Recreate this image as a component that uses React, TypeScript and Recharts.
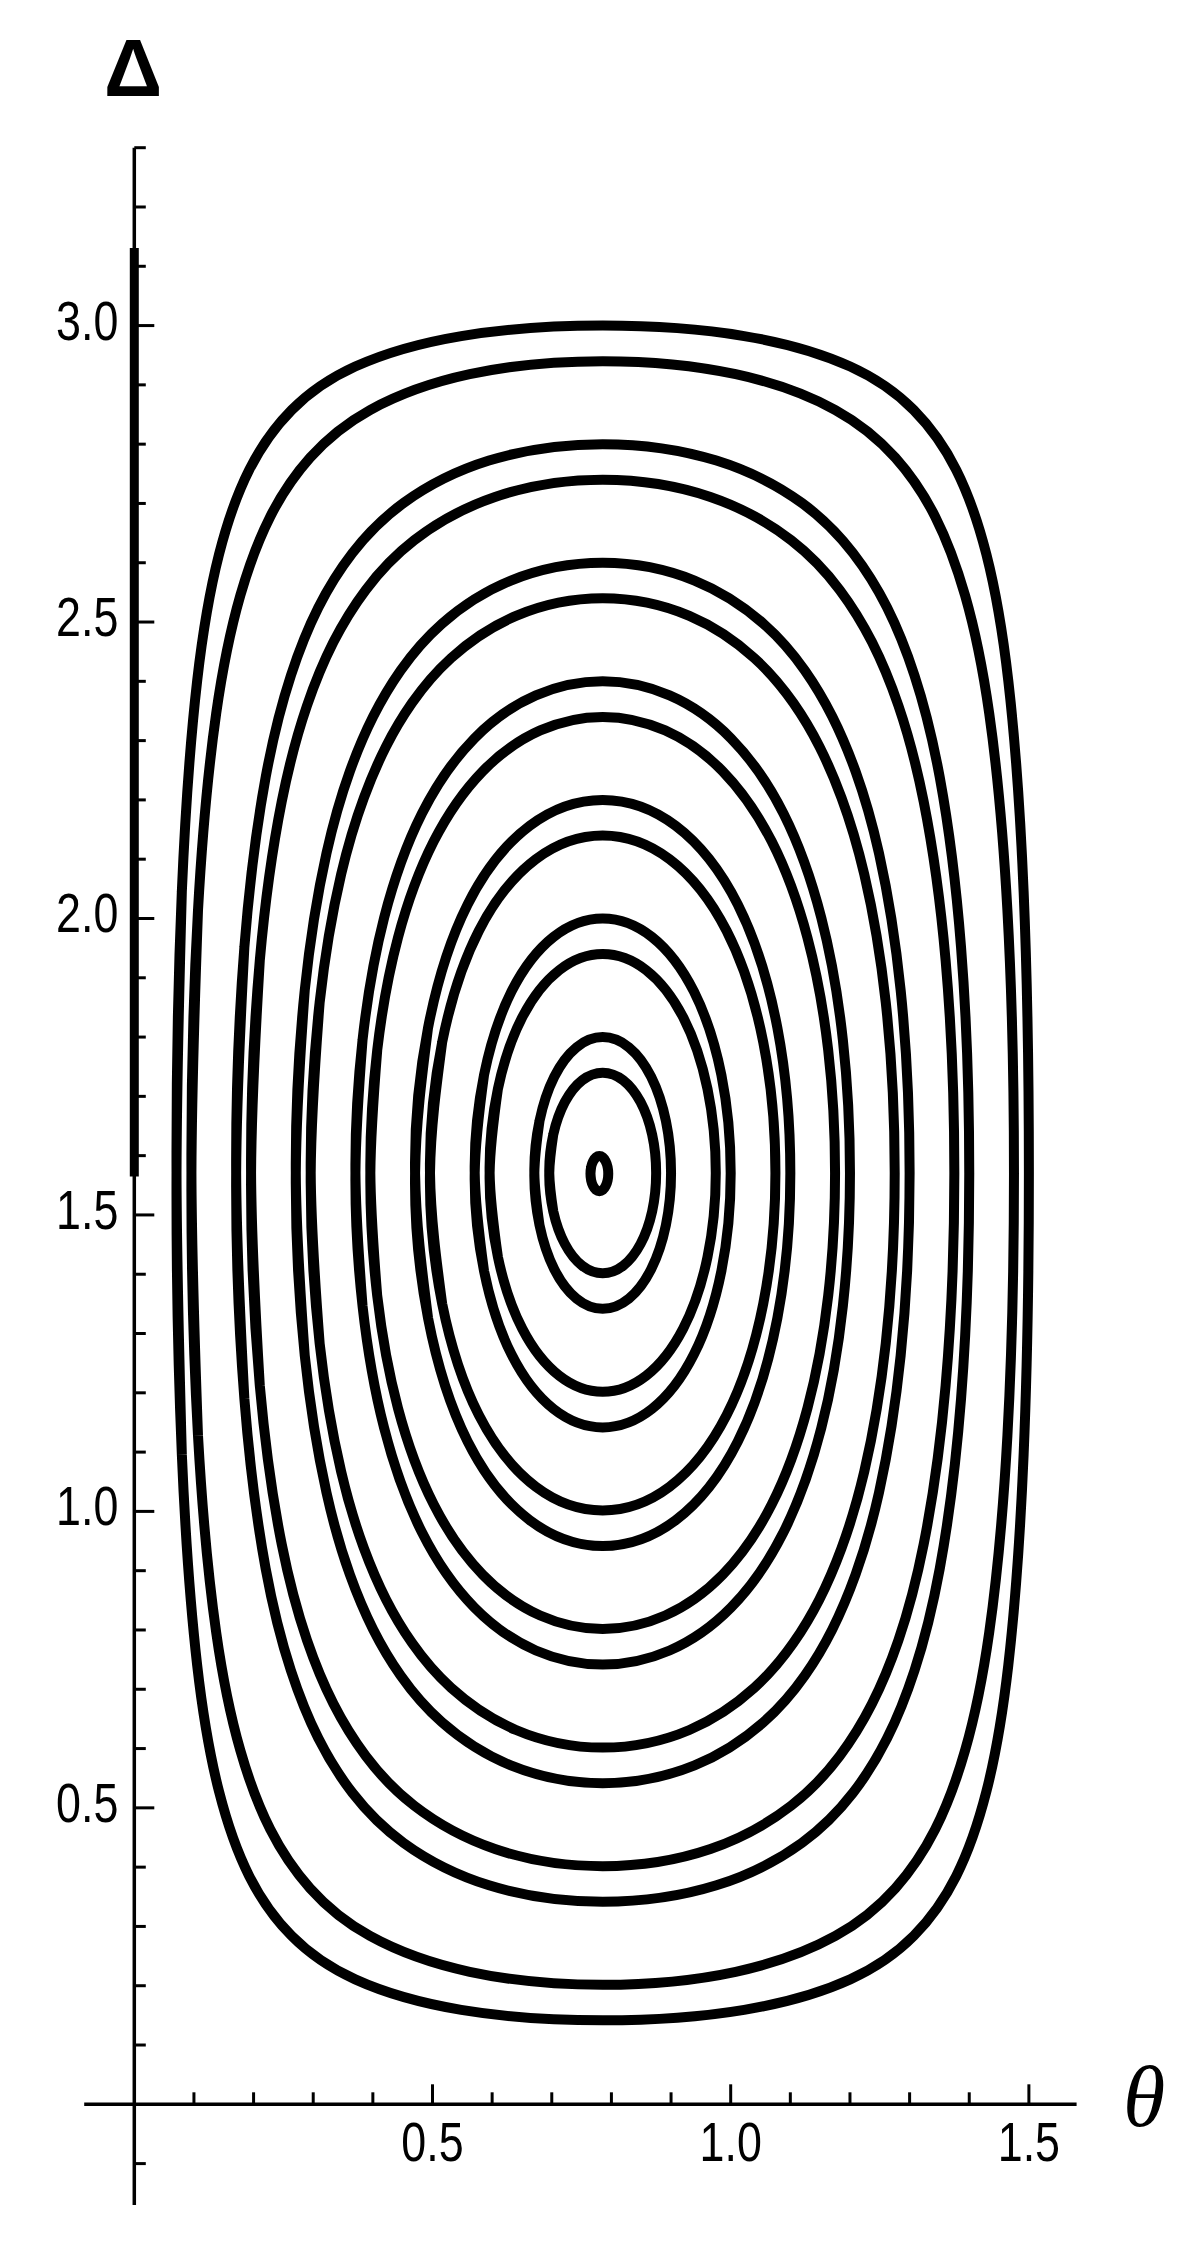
import { LineChart, Line, XAxis, YAxis, ReferenceLine } from "recharts";

const W = 1183;
const H = 2243;
const X_AXIS_H = 30;
const Y_AXIS_W = 40;
const MARGIN = { top: 147.7, right: 106.4, bottom: 37.9 - X_AXIS_H, left: 84.2 - Y_AXIS_W };
const X_DOMAIN: [number, number] = [-0.084, 1.58];
const Y_DOMAIN: [number, number] = [-0.17, 3.3];
const PLOT_W = W - 84.2 - MARGIN.right;
const PLOT_H = H - MARGIN.top - 37.9;
// where θ = 0 and Δ = 0 sit inside the plot box
const X0_OFF = ((0 - X_DOMAIN[0]) / (X_DOMAIN[1] - X_DOMAIN[0])) * PLOT_W;
const Y0_OFF = ((0 - Y_DOMAIN[0]) / (Y_DOMAIN[1] - Y_DOMAIN[0])) * PLOT_H;

const X_TICKS = [0.1, 0.2, 0.3, 0.4, 0.5, 0.6, 0.7, 0.8, 0.9, 1.0, 1.1, 1.2, 1.3, 1.4, 1.5];
const Y_TICKS = [
  -0.1, 0.1, 0.2, 0.3, 0.4, 0.5, 0.6, 0.7, 0.8, 0.9, 1.0, 1.1, 1.2, 1.3, 1.4, 1.5, 1.6,
  1.7, 1.8, 1.9, 2.0, 2.1, 2.2, 2.3, 2.4, 2.5, 2.6, 2.7, 2.8, 2.9, 3.0, 3.1, 3.2, 3.3,
];

// thick segment on the θ = 0 axis
const AXIS_SEGMENT = [[0, 1.565], [0, 3.131]];

// closed orbits, [θ, Δ] (outermost first)
const ORBIT_300 = [
  [0.0708, 1.5708], [0.0797, 2.0451], [0.1054, 2.4008], [0.1421, 2.6142], [0.1926, 2.7565],
  [0.2637, 2.8574], [0.3704, 2.9309], [0.5482, 2.9823], [0.7854, 3.0], [1.0226, 2.9823],
  [1.2004, 2.9309], [1.3071, 2.8574], [1.3782, 2.7565], [1.4287, 2.6142], [1.4655, 2.4008],
  [1.4912, 2.0451], [1.5, 1.5708], [1.4912, 1.0965], [1.4655, 0.7408], [1.4287, 0.5274],
  [1.3782, 0.3851], [1.3071, 0.2842], [1.2004, 0.2107], [1.0226, 0.1593], [0.7854, 0.1416],
  [0.5482, 0.1593], [0.3704, 0.2107], [0.2637, 0.2842], [0.1926, 0.3851], [0.1421, 0.5274],
  [0.1054, 0.7408], [0.0797, 1.0965],
];
const ORBIT_294 = [
  [0.0958, 1.5708], [0.1068, 2.0135], [0.1373, 2.3456], [0.1778, 2.5448], [0.2279, 2.6777],
  [0.2948, 2.7773], [0.3952, 2.8576], [0.5624, 2.9181], [0.7854, 2.94], [1.0084, 2.9181],
  [1.1756, 2.8576], [1.276, 2.7773], [1.3429, 2.6777], [1.393, 2.5448], [1.4335, 2.3456],
  [1.464, 2.0135], [1.475, 1.5708], [1.464, 1.1281], [1.4335, 0.796], [1.393, 0.5968],
  [1.3429, 0.4639], [1.276, 0.3643], [1.1756, 0.284], [1.0084, 0.2235], [0.7854, 0.2016],
  [0.5624, 0.2235], [0.3952, 0.284], [0.2948, 0.3643], [0.2279, 0.4639], [0.1778, 0.5968],
  [0.1373, 0.796], [0.1068, 1.1281],
];
const ORBIT_280 = [
  [0.1708, 1.5708], [0.1846, 1.9522], [0.2203, 2.2383], [0.2626, 2.4099], [0.3086, 2.5244],
  [0.3658, 2.6164], [0.4517, 2.7009], [0.5947, 2.7723], [0.7854, 2.8], [0.9761, 2.7723],
  [1.1192, 2.7009], [1.205, 2.6164], [1.2622, 2.5244], [1.3082, 2.4099], [1.3505, 2.2383],
  [1.3862, 1.9522], [1.4, 1.5708], [1.3862, 1.1894], [1.3505, 0.9033], [1.3082, 0.7317],
  [1.2622, 0.6172], [1.205, 0.5252], [1.1192, 0.4407], [0.9761, 0.3693], [0.7854, 0.3416],
  [0.5947, 0.3693], [0.4517, 0.4407], [0.3658, 0.5252], [0.3086, 0.6172], [0.2626, 0.7317],
  [0.2203, 0.9033], [0.1846, 1.1894],
];
const ORBIT_274 = [
  [0.1958, 1.5708], [0.2104, 1.929], [0.2473, 2.1976], [0.2895, 2.3588], [0.3339, 2.4662],
  [0.3881, 2.5542], [0.4693, 2.6379], [0.6048, 2.711], [0.7854, 2.74], [0.966, 2.711],
  [1.1015, 2.6379], [1.1828, 2.5542], [1.2369, 2.4662], [1.2813, 2.3588], [1.3235, 2.1976],
  [1.3604, 1.929], [1.375, 1.5708], [1.3604, 1.2126], [1.3235, 0.944], [1.2813, 0.7828],
  [1.2369, 0.6754], [1.1828, 0.5874], [1.1015, 0.5037], [0.966, 0.4306], [0.7854, 0.4016],
  [0.6048, 0.4306], [0.4693, 0.5037], [0.3881, 0.5874], [0.3339, 0.6754], [0.2895, 0.7828],
  [0.2473, 0.944], [0.2104, 1.2126],
];
const ORBIT_260 = [
  [0.2708, 1.5708], [0.2858, 1.8788], [0.3222, 2.1097], [0.3615, 2.2483], [0.4005, 2.3407],
  [0.4467, 2.4186], [0.5159, 2.4973], [0.6314, 2.57], [0.7854, 2.6], [0.9394, 2.57],
  [1.0549, 2.4973], [1.1242, 2.4186], [1.1703, 2.3407], [1.2093, 2.2483], [1.2487, 2.1097],
  [1.285, 1.8788], [1.3, 1.5708], [1.285, 1.2628], [1.2487, 1.0319], [1.2093, 0.8933],
  [1.1703, 0.8009], [1.1242, 0.723], [1.0549, 0.6443], [0.9394, 0.5716], [0.7854, 0.5416],
  [0.6314, 0.5716], [0.5159, 0.6443], [0.4467, 0.723], [0.4005, 0.8009], [0.3615, 0.8933],
  [0.3222, 1.0319], [0.2858, 1.2628],
];
const ORBIT_254 = [
  [0.2958, 1.5708], [0.3108, 1.8585], [0.3468, 2.0743], [0.385, 2.2037], [0.4221, 2.2901],
  [0.4657, 2.3635], [0.5311, 2.4391], [0.6401, 2.5103], [0.7854, 2.54], [0.9307, 2.5103],
  [1.0397, 2.4391], [1.1051, 2.3635], [1.1487, 2.2901], [1.1858, 2.2037], [1.224, 2.0743],
  [1.26, 1.8585], [1.275, 1.5708], [1.26, 1.2831], [1.224, 1.0673], [1.1858, 0.9379],
  [1.1487, 0.8515], [1.1051, 0.7781], [1.0397, 0.7025], [0.9307, 0.6313], [0.7854, 0.6016],
  [0.6401, 0.6313], [0.5311, 0.7025], [0.4657, 0.7781], [0.4221, 0.8515], [0.385, 0.9379],
  [0.3468, 1.0673], [0.3108, 1.2831],
];
const ORBIT_240 = [
  [0.3708, 1.5708], [0.3827, 1.7951], [0.4189, 2.0011], [0.4823, 2.1769], [0.5702, 2.3037],
  [0.6733, 2.3762], [0.7854, 2.4], [0.8975, 2.3762], [1.0006, 2.3037], [1.0885, 2.1769],
  [1.1519, 2.0011], [1.1881, 1.7951], [1.2, 1.5708], [1.1881, 1.3465], [1.1519, 1.1405],
  [1.0885, 0.9647], [1.0006, 0.8379], [0.8975, 0.7654], [0.7854, 0.7416], [0.6733, 0.7654],
  [0.5702, 0.8379], [0.4823, 0.9647], [0.4189, 1.1405], [0.3827, 1.3465],
];
const ORBIT_234 = [
  [0.3958, 1.5708], [0.4073, 1.7777], [0.4422, 1.9679], [0.5021, 2.1301], [0.5843, 2.2484],
  [0.6806, 2.3172], [0.7854, 2.34], [0.8902, 2.3172], [0.9865, 2.2484], [1.0687, 2.1301],
  [1.1286, 1.9679], [1.1635, 1.7777], [1.175, 1.5708], [1.1635, 1.3639], [1.1286, 1.1737],
  [1.0687, 1.0115], [0.9865, 0.8932], [0.8902, 0.8244], [0.7854, 0.8016], [0.6806, 0.8244],
  [0.5843, 0.8932], [0.5021, 1.0115], [0.4422, 1.1737], [0.4073, 1.3639],
];
const ORBIT_220 = [
  [0.4708, 1.5708], [0.4925, 1.8154], [0.5589, 2.0237], [0.6631, 2.1565], [0.7854, 2.2],
  [0.9077, 2.1565], [1.0119, 2.0237], [1.0783, 1.8154], [1.1, 1.5708], [1.0783, 1.3262],
  [1.0119, 1.1179], [0.9077, 0.9851], [0.7854, 0.9416], [0.6631, 0.9851], [0.5589, 1.1179],
  [0.4925, 1.3262],
];
const ORBIT_214 = [
  [0.4958, 1.5708], [0.5162, 1.7913], [0.5777, 1.9791], [0.6732, 2.1], [0.7854, 2.14],
  [0.8976, 2.1], [0.9932, 1.9791], [1.0546, 1.7913], [1.075, 1.5708], [1.0546, 1.3503],
  [0.9932, 1.1625], [0.8976, 1.0416], [0.7854, 1.0016], [0.6732, 1.0416], [0.5777, 1.1625],
  [0.5162, 1.3503],
];
const ORBIT_200 = [
  [0.5708, 1.5708], [0.5864, 1.736], [0.6324, 1.8767], [0.7028, 1.9688], [0.7854, 2.0],
  [0.868, 1.9688], [0.9384, 1.8767], [0.9844, 1.736], [1.0, 1.5708], [0.9844, 1.4056],
  [0.9384, 1.2649], [0.868, 1.1728], [0.7854, 1.1416], [0.7028, 1.1728], [0.6324, 1.2649],
  [0.5864, 1.4056],
];
const ORBIT_194 = [
  [0.5958, 1.5708], [0.6097, 1.7126], [0.6505, 1.8334], [0.7126, 1.9129], [0.7854, 1.94],
  [0.8582, 1.9129], [0.9203, 1.8334], [0.9611, 1.7126], [0.975, 1.5708], [0.9611, 1.429],
  [0.9203, 1.3082], [0.8582, 1.2287], [0.7854, 1.2016], [0.7126, 1.2287], [0.6505, 1.3082],
  [0.6097, 1.429],
];
const ORBIT_180 = [
  [0.6708, 1.5708], [0.6794, 1.6585], [0.7042, 1.7332], [0.7415, 1.7828], [0.7854, 1.8],
  [0.8293, 1.7828], [0.8666, 1.7332], [0.8914, 1.6585], [0.9, 1.5708], [0.8914, 1.4831],
  [0.8666, 1.4084], [0.8293, 1.3588], [0.7854, 1.3416], [0.7415, 1.3588], [0.7042, 1.4084],
  [0.6794, 1.4831],
];
const ORBIT_174 = [
  [0.6958, 1.5708], [0.7025, 1.6355], [0.722, 1.6906], [0.7511, 1.7273], [0.7854, 1.74],
  [0.8197, 1.7273], [0.8488, 1.6906], [0.8683, 1.6355], [0.875, 1.5708], [0.8683, 1.5061],
  [0.8488, 1.451], [0.8197, 1.4143], [0.7854, 1.4016], [0.7511, 1.4143], [0.722, 1.451],
  [0.7025, 1.5061],
];
const ORBIT_160 = [
  [0.7649, 1.5696], [0.766, 1.5809], [0.7693, 1.5905], [0.7741, 1.597], [0.7798, 1.5992],
  [0.7855, 1.597], [0.7903, 1.5905], [0.7936, 1.5809], [0.7947, 1.5696], [0.7936, 1.5583],
  [0.7903, 1.5487], [0.7855, 1.5422], [0.7798, 1.54], [0.7741, 1.5422], [0.7693, 1.5487],
  [0.766, 1.5583],
];

const ORBITS = [
  ORBIT_300, ORBIT_294, ORBIT_280, ORBIT_274, ORBIT_260, ORBIT_254, ORBIT_240, ORBIT_234,
  ORBIT_220, ORBIT_214, ORBIT_200, ORBIT_194, ORBIT_180, ORBIT_174, ORBIT_160,
];

const toRows = (pts: number[][]) => pts.map(([t, d]) => ({ t, d }));
// wrap one point on each side so the spline closes smoothly
const closeLoop = (pts: number[][]) =>
  toRows([pts[pts.length - 1], ...pts, pts[0], pts[1]]);

const LABEL_FONT = "'Liberation Sans', Arial, Helvetica, sans-serif";
const isMajor = (v: number) => Math.abs(v * 2 - Math.round(v * 2)) < 1e-6;

const XTick = (props: any) => {
  const { x, y, payload } = props;
  const v = payload.value as number;
  const ya = y - Y0_OFF;
  const major = isMajor(v);
  return (
    <g>
      <line x1={x} x2={x} y1={ya} y2={ya - (major ? 20 : 12)} stroke="#000" strokeWidth={3} />
      {major && (
        <text
          transform={`translate(${x},${ya + 57}) scale(0.8,1)`}
          textAnchor="middle"
          fontFamily={LABEL_FONT}
          fontSize={56}
          fill="#000"
        >
          {v.toFixed(1)}
        </text>
      )}
    </g>
  );
};

const YTick = (props: any) => {
  const { x, y, payload } = props;
  const v = payload.value as number;
  const xa = x + X0_OFF;
  const major = isMajor(v);
  return (
    <g>
      <line x1={xa} x2={xa + (major ? 20 : 11.5)} y1={y} y2={y} stroke="#000" strokeWidth={3} />
      {major && (
        <text
          transform={`translate(${xa - 16},${y + 14}) scale(0.8,1)`}
          textAnchor="end"
          fontFamily={LABEL_FONT}
          fontSize={56}
          fill="#000"
        >
          {v.toFixed(1)}
        </text>
      )}
    </g>
  );
};

export default function App() {
  return (
    <div style={{ position: "absolute", left: 0, top: 0, width: W, height: H, background: "#fff" }}>
      <LineChart width={W} height={H} margin={MARGIN}>
        <XAxis
          type="number"
          dataKey="t"
          domain={X_DOMAIN}
          allowDataOverflow
          ticks={X_TICKS}
          interval={0}
          height={X_AXIS_H}
          axisLine={false}
          tickLine={false}
          tickSize={0}
          tickMargin={0}
          tick={(p: any) => <XTick {...p} />}
        />
        <YAxis
          type="number"
          dataKey="d"
          domain={Y_DOMAIN}
          allowDataOverflow
          ticks={Y_TICKS}
          interval={0}
          width={Y_AXIS_W}
          axisLine={false}
          tickLine={false}
          tickSize={0}
          tickMargin={0}
          tick={(p: any) => <YTick {...p} />}
        />
        <ReferenceLine x={0} stroke="#000" strokeWidth={3.5} />
        <ReferenceLine y={0} stroke="#000" strokeWidth={3.5} />
        <Line
          data={toRows(AXIS_SEGMENT)}
          dataKey="d"
          type="linear"
          stroke="#000"
          strokeWidth={9}
          dot={false}
          activeDot={false}
          isAnimationActive={false}
        />
        {ORBITS.map((pts, i) => (
          <Line
            key={i}
            data={closeLoop(pts)}
            dataKey="d"
            type="natural"
            stroke="#000"
            strokeWidth={10}
            strokeLinejoin="round"
            dot={false}
            activeDot={false}
            isAnimationActive={false}
          />
        ))}
      </LineChart>
      <svg
        width={W}
        height={H}
        style={{ position: "absolute", left: 0, top: 0, pointerEvents: "none" }}
      >
        <text
          x={133}
          y={96}
          textAnchor="middle"
          fontFamily={LABEL_FONT}
          fontWeight="bold"
          fontSize={81}
          fill="#000"
        >
          Δ
        </text>
        <text
          x={1144}
          y={2126}
          textAnchor="middle"
          fontFamily="'Liberation Serif', 'Times New Roman', serif"
          fontStyle="italic"
          fontSize={86}
          fill="#000"
        >
          θ
        </text>
      </svg>
    </div>
  );
}
